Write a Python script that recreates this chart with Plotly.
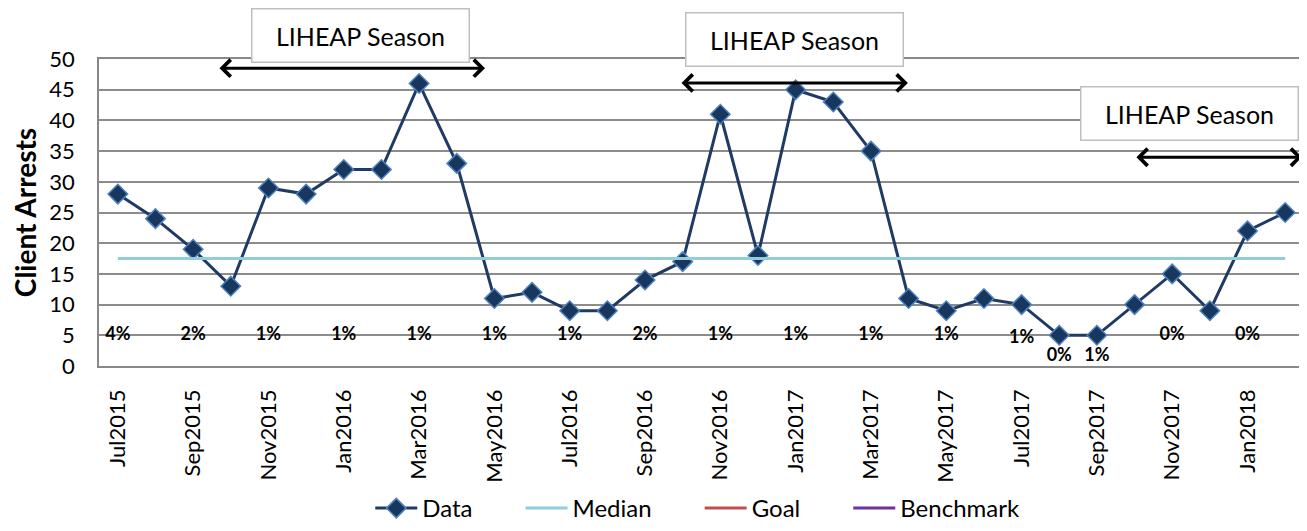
import plotly.graph_objects as go

months = ["Jul2015", "Aug2015", "Sep2015", "Oct2015", "Nov2015", "Dec2015",
          "Jan2016", "Feb2016", "Mar2016", "Apr2016", "May2016", "Jun2016",
          "Jul2016", "Aug2016", "Sep2016", "Oct2016", "Nov2016", "Dec2016",
          "Jan2017", "Feb2017", "Mar2017", "Apr2017", "May2017", "Jun2017",
          "Jul2017", "Aug2017", "Sep2017", "Oct2017", "Nov2017", "Dec2017",
          "Jan2018", "Feb2018"]
arrests = [28, 24, 19, 13, 29, 28, 32, 32, 46, 33, 11, 12, 9, 9, 14, 17,
           41, 18, 45, 43, 35, 11, 9, 11, 10, 5, 5, 10, 15, 9, 22, 25]
median_value = 17.5

pct_index = [0, 2, 4, 6, 8, 10, 12, 14, 16, 18, 20, 22, 24, 25, 26, 28, 30]
pct_text = ["4%", "2%", "1%", "1%", "1%", "1%", "1%", "2%", "1%", "1%", "1%",
            "1%", "1%", "0%", "1%", "0%", "0%"]
pct_y = [5, 5, 5, 5, 5, 5, 5, 5, 5, 5, 5, 5, 4.5, 1.6, 1.6, 5, 5]

# LIHEAP season spans (month index, fractional) and label positions
season_start = [2.66, 14.93, 27.01]
season_end = [9.75, 20.98, 31.45]
season_arrow_y = [48.5, 46.1, 34.0]
season_label_x = [6.45, 17.98, 28.47]
season_label_yp = [1.078, 1.062, 0.821]   # paper fraction

FONT = "Lato"
PAD = "\u00a0" * 7   # spacing after legend entries
x = list(range(len(months)))

fig = go.Figure()
fig.add_trace(go.Scatter(
    x=x, y=arrests, mode="lines+markers", name="Data" + PAD,
    line=dict(color="#1F3A64", width=3),
    marker=dict(symbol="diamond", size=15, color="#17375E",
                line=dict(color="#4F81BD", width=1.5)),
))
fig.add_trace(go.Scatter(
    x=[x[0], x[-1]], y=[median_value, median_value], mode="lines",
    name="Median" + PAD, line=dict(color="#93CDDD", width=3),
))
fig.add_trace(go.Scatter(
    x=x, y=[None] * len(x), mode="lines", name="Goal" + PAD,
    line=dict(color="#C0504D", width=3),
))
fig.add_trace(go.Scatter(
    x=x, y=[None] * len(x), mode="lines", name="Benchmark",
    line=dict(color="#7030A0", width=3),
))
fig.add_trace(go.Scatter(
    x=pct_index, y=pct_y, mode="text", text=pct_text, showlegend=False,
    textfont=dict(family=FONT, size=18, color="black", weight="bold"),
    hoverinfo="skip",
))

annotations = []
for s, e, ay, lx, ly in zip(season_start, season_end, season_arrow_y,
                            season_label_x, season_label_yp):
    annotations.append(dict(
        x=e, y=ay, ax=s, ay=ay, xref="x", yref="y", axref="x", ayref="y",
        text="", showarrow=True, arrowside="end+start",
        arrowhead=4, startarrowhead=4, arrowwidth=3,
        arrowsize=1.1, startarrowsize=1.1, arrowcolor="black",
    ))
    annotations.append(dict(
        x=lx, y=ly, xref="x", yref="paper", xanchor="center", yanchor="middle",
        text="LIHEAP Season", showarrow=False,
        font=dict(family=FONT, size=25, color="black"),
        bordercolor="#BFBFBF", borderwidth=1.5, bgcolor="white",
        width=214, height=50, align="center",
    ))

# page body has an 8px margin, so the figure is 8px smaller than the window
fig.update_layout(
    width=1299, height=523,
    margin=dict(l=91, r=3, t=51, b=165),
    paper_bgcolor="white", plot_bgcolor="white",
    font=dict(family=FONT, color="black"),
    showlegend=True,
    legend=dict(orientation="h", x=0.531, xanchor="center",
                xref="container", yref="container", y=-0.035, yanchor="bottom",
                font=dict(family=FONT, size=24), itemwidth=42),
    annotations=annotations,
)
fig.update_xaxes(
    range=[-0.5, 31.5], tickvals=x[::2], ticktext=months[::2], tickangle=-90,
    tickfont=dict(family=FONT, size=22), showgrid=False, zeroline=False,
    showline=True, linecolor="#888888", linewidth=1.5, mirror=True, ticks="",
    automargin=False, ticklabelstandoff=13,
)
fig.update_yaxes(
    range=[0, 50], dtick=5, tickfont=dict(family=FONT, size=22),
    showgrid=True, gridcolor="#8C8C8C", gridwidth=1.5, zeroline=False,
    showline=True, linecolor="#888888", linewidth=1.5, mirror=True, ticks="",
    automargin=False, ticklabelstandoff=18,
    title=dict(text="Client Arrests", font=dict(family=FONT, size=28, weight="bold"),
               standoff=10),
)

fig.write_html("out.html")
